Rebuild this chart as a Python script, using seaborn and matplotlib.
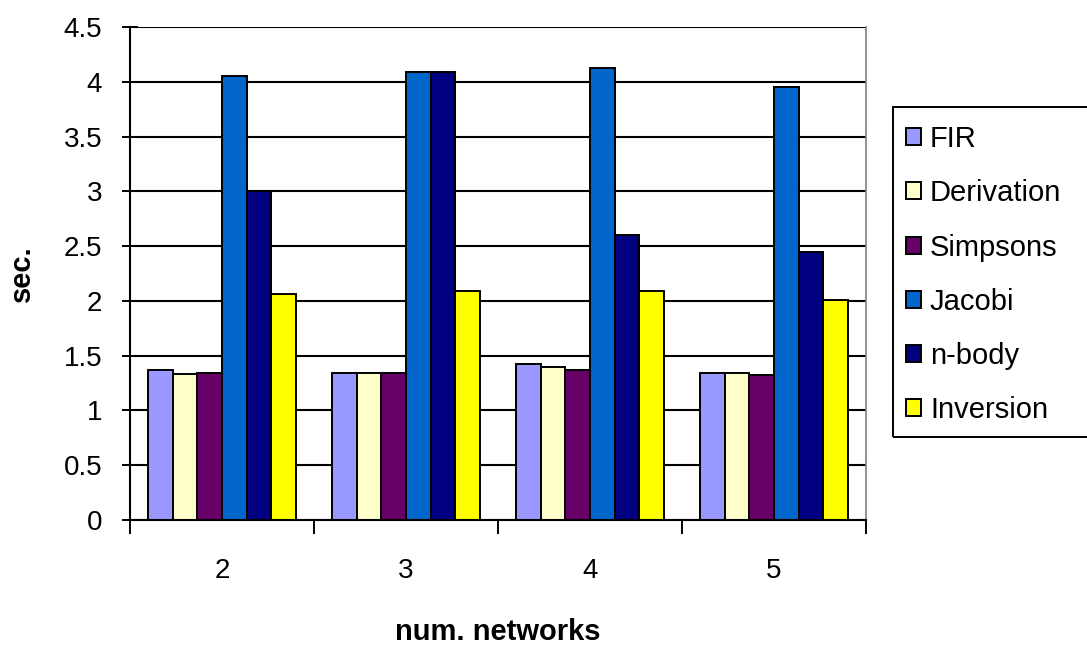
import matplotlib
matplotlib.use("Agg")
import matplotlib.pyplot as plt
import seaborn as sns
import pandas as pd
from matplotlib.ticker import FixedLocator
from matplotlib.patches import Rectangle

# Execution times (sec.) per benchmark for each number of networks
networks = ["2", "3", "4", "5"]
benchmarks = ["FIR", "Derivation", "Simpsons", "Jacobi", "n-body", "Inversion"]
fir = [1.37, 1.34, 1.42, 1.34]
derivation = [1.33, 1.34, 1.40, 1.34]
simpsons = [1.34, 1.345, 1.37, 1.32]
jacobi = [4.05, 4.09, 4.13, 3.95]
nbody = [3.0, 4.09, 2.60, 2.45]
inversion = [2.06, 2.09, 2.09, 2.01]
colors = ["#9999FF", "#FFFFCC", "#660066", "#0066CC", "#000080", "#FFFF00"]

series = [fir, derivation, simpsons, jacobi, nbody, inversion]
rows = []
for name, vals in zip(benchmarks, series):
    for n, v in zip(networks, vals):
        rows.append({"networks": n, "benchmark": name, "sec": v})
df = pd.DataFrame(rows)

sns.set_style("white")
plt.rcParams["font.family"] = ["Liberation Sans", "DejaVu Sans"]
plt.rcParams["text.color"] = "black"
plt.rcParams["axes.labelcolor"] = "black"
plt.rcParams["xtick.color"] = "black"
plt.rcParams["ytick.color"] = "black"

W, H = 1087, 645
fig = plt.figure(figsize=(W / 100, H / 100), dpi=100)
ax = fig.add_axes([130 / W, 1 - 520 / H, (866 - 130) / W, (520 - 27) / H])

sns.barplot(data=df, x="networks", y="sec", hue="benchmark", order=networks,
            hue_order=benchmarks, palette=colors, saturation=1, width=0.8,
            edgecolor="black", linewidth=1.4, ax=ax, legend=True)

ax.set_ylim(0, 4.5)
ax.set_xlim(-0.5, 3.5)
ax.set_yticks([0, 0.5, 1, 1.5, 2, 2.5, 3, 3.5, 4, 4.5])
ax.set_yticklabels(["0", "0.5", "1", "1.5", "2", "2.5", "3", "3.5", "4", "4.5"])
ax.yaxis.grid(True, color="black", linewidth=1.5)
ax.set_axisbelow(True)

# category ticks: labels centred, tick marks between groups
ax.tick_params(axis="x", which="major", length=0, labelsize=20, pad=27,
               labelcolor="black")
ax.xaxis.set_minor_locator(FixedLocator([-0.5, 0.5, 1.5, 2.5, 3.5]))
ax.tick_params(axis="x", which="minor", length=10, width=1.4, color="black",
               direction="out", bottom=True)
ax.tick_params(axis="y", length=12, width=1.4, color="black", direction="inout",
               left=True, labelsize=20, pad=14, labelcolor="black")

for side in ["left", "bottom"]:
    ax.spines[side].set_color("black")
    ax.spines[side].set_linewidth(1.5)
ax.spines["right"].set_color("#808080")
ax.spines["right"].set_linewidth(1.2)
ax.spines["top"].set_visible(False)

ax.set_xlabel("num. networks", fontsize=21, fontweight="bold", labelpad=25,
              color="black")
ax.set_ylabel("sec.", fontsize=21, fontweight="bold", labelpad=20,
              color="black")

handles, labels = ax.get_legend_handles_labels()
ax.get_legend().remove()
leg = fig.legend(handles, labels, loc="upper left",
                 bbox_to_anchor=(906 / W, 1 - 125 / H), frameon=False,
                 fontsize=21, handlelength=0.52, handleheight=0.52,
                 handletextpad=0.3, labelspacing=0.9, borderpad=0,
                 borderaxespad=0, labelcolor="black")
for h in leg.legend_handles:
    h.set_edgecolor("black")
    h.set_linewidth(1.4)

# legend box running off the right edge of the figure
fig.patches.append(Rectangle((893 / W, 1 - 437 / H), (1100 - 893) / W,
                             (437 - 107) / H, transform=fig.transFigure,
                             fill=False, edgecolor="black", linewidth=1.4,
                             clip_on=False))

fig.savefig("out.png", dpi=100, facecolor="white")
